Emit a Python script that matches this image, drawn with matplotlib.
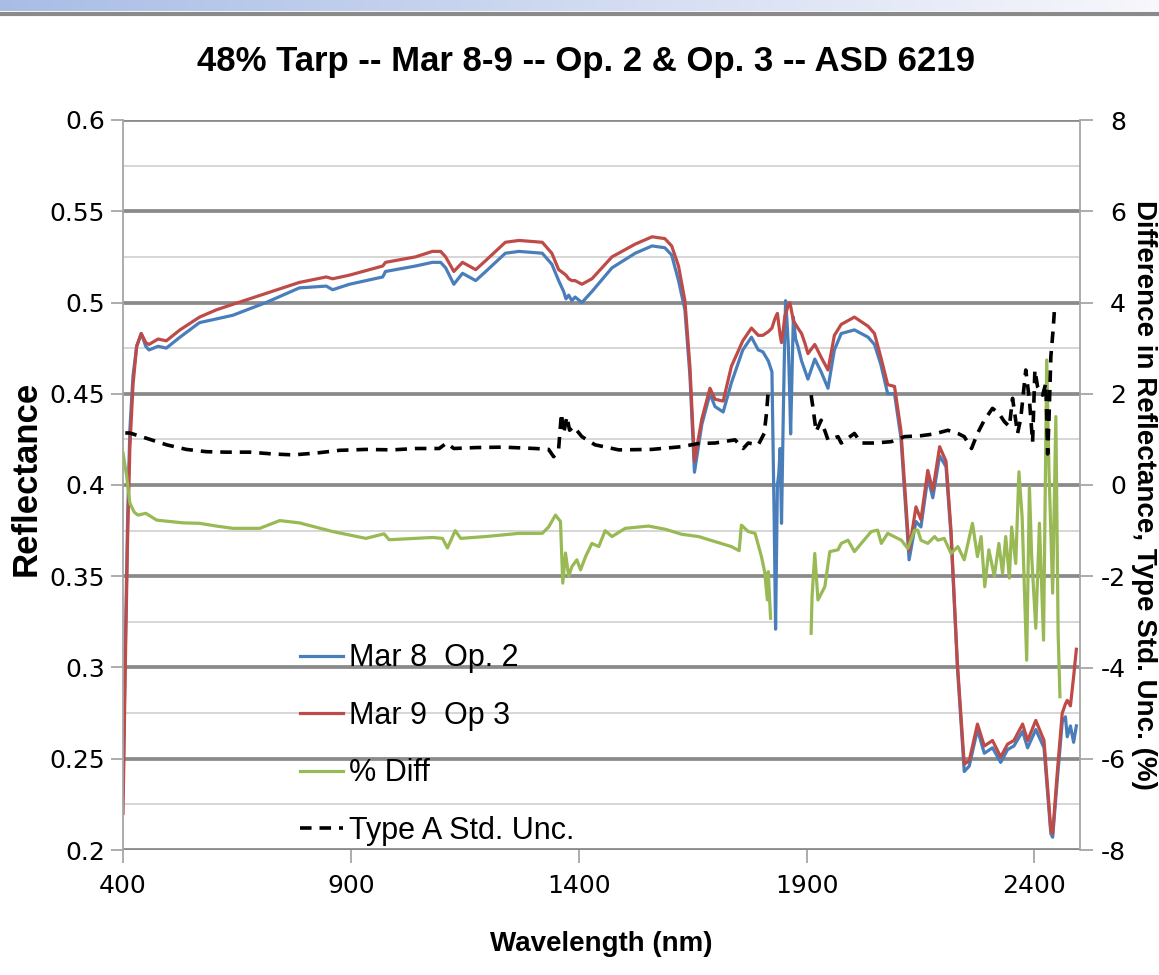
import numpy as np
import matplotlib
matplotlib.use("Agg")
import matplotlib.pyplot as plt
from matplotlib.ticker import MultipleLocator
from matplotlib.lines import Line2D

# reflectance spectra (wavelength in nm)
wl_refl = [400, 405, 410, 415, 422, 430, 440, 450, 457, 477, 495, 525, 568, 605, 641, 714,
           787, 846, 860, 897, 970, 976, 1042, 1079, 1097, 1108, 1126, 1145, 1174, 1196,
           1239, 1269, 1320, 1341, 1356, 1367, 1372, 1378, 1385, 1392, 1407, 1429, 1473,
           1524, 1561, 1589, 1604, 1619, 1633, 1644, 1654, 1670, 1688, 1699, 1717, 1735,
           1760, 1779, 1794, 1804, 1816, 1824, 1829, 1832, 1836, 1839, 1842, 1845, 1849,
           1852, 1854, 1857, 1860, 1863, 1865, 1868, 1871, 1876, 1881, 1889, 1896, 1903,
           1918, 1932, 1947, 1961, 1976, 2005, 2035, 2049, 2063, 2078, 2093, 2107, 2125,
           2140, 2151, 2166, 2177, 2192, 2206, 2217, 2231, 2246, 2257, 2275, 2290, 2308,
           2326, 2341, 2355, 2374, 2385, 2403, 2421, 2436, 2440, 2450, 2461, 2468, 2472,
           2479, 2486, 2492]
mar9_op3 = [0.220, 0.300, 0.370, 0.420, 0.455, 0.476, 0.483, 0.478, 0.477, 0.480, 0.479,
            0.485, 0.492, 0.496, 0.499, 0.505, 0.511, 0.514, 0.513, 0.515, 0.520, 0.522,
            0.525, 0.528, 0.528, 0.525, 0.517, 0.522, 0.518, 0.523, 0.533, 0.534, 0.533,
            0.527, 0.518, 0.516, 0.515, 0.513, 0.512, 0.512, 0.510, 0.513, 0.525, 0.532,
            0.536, 0.535, 0.531, 0.520, 0.501, 0.465, 0.413, 0.436, 0.453, 0.447, 0.446,
            0.465, 0.479, 0.486, 0.482, 0.482, 0.484, 0.486, 0.490, 0.492, 0.494, 0.488,
            0.482, 0.478, 0.485, 0.492, 0.494, 0.496, 0.499, 0.500, 0.498, 0.494, 0.490,
            0.488, 0.486, 0.483, 0.478, 0.472, 0.477, 0.470, 0.463, 0.482, 0.488, 0.492,
            0.487, 0.483, 0.470, 0.455, 0.454, 0.430, 0.364, 0.388, 0.381, 0.408, 0.397,
            0.421, 0.413, 0.375, 0.302, 0.247, 0.249, 0.269, 0.257, 0.260, 0.251, 0.258,
            0.260, 0.269, 0.260, 0.271, 0.260, 0.211, 0.209, 0.242, 0.275, 0.280, 0.282,
            0.279, 0.295, 0.310]
mar8_op2 = [0.230, 0.310, 0.380, 0.430, 0.460, 0.476, 0.483, 0.476, 0.474, 0.476, 0.475,
            0.481, 0.489, 0.491, 0.493, 0.500, 0.508, 0.509, 0.507, 0.510, 0.514, 0.517,
            0.520, 0.522, 0.522, 0.519, 0.510, 0.516, 0.512, 0.517, 0.527, 0.528, 0.527,
            0.521, 0.512, 0.506, 0.502, 0.504, 0.501, 0.503, 0.500, 0.506, 0.519, 0.527,
            0.531, 0.530, 0.526, 0.512, 0.496, 0.460, 0.407, 0.433, 0.450, 0.443, 0.440,
            0.456, 0.474, 0.481, 0.474, 0.473, 0.468, 0.462, 0.380, 0.321, 0.400, 0.406,
            0.420, 0.379, 0.440, 0.480, 0.501, 0.490, 0.476, 0.450, 0.428, 0.460, 0.492,
            0.480, 0.476, 0.468, 0.463, 0.458, 0.469, 0.462, 0.453, 0.474, 0.483, 0.485,
            0.481, 0.477, 0.466, 0.450, 0.450, 0.426, 0.359, 0.380, 0.377, 0.404, 0.393,
            0.416, 0.410, 0.372, 0.300, 0.243, 0.246, 0.266, 0.253, 0.256, 0.248, 0.255,
            0.257, 0.265, 0.256, 0.266, 0.256, 0.209, 0.207, 0.238, 0.270, 0.273, 0.262,
            0.268, 0.259, 0.268]

# percent difference (right axis), nan = no data
wl_diff = [400, 408, 415, 425, 433, 450, 474, 532, 568, 605, 641, 700, 744, 787, 860, 933,
           973, 984, 1079, 1101, 1112, 1129, 1141, 1196, 1269, 1320, 1334, 1349, 1360, 1365,
           1371, 1378, 1385, 1396, 1404, 1415, 1429, 1444, 1458, 1473, 1502, 1553, 1590,
           1626, 1663, 1699, 1735, 1752, 1757, 1772, 1787, 1801, 1808, 1814, 1816, 1821,
           1822, 1908, 1910, 1912, 1918, 1925, 1940, 1951, 1969, 1976, 1991, 2005, 2020,
           2042, 2056, 2064, 2078, 2100, 2108, 2122, 2137, 2144, 2151, 2166, 2181, 2188,
           2202, 2217, 2232, 2246, 2264, 2275, 2283, 2291, 2300, 2312, 2322, 2330, 2337,
           2345, 2350, 2359, 2366, 2373, 2383, 2389, 2394, 2403, 2411, 2420, 2427, 2432,
           2440, 2447, 2452, 2456]
pct_diff = [0.70, 0.20, -0.40, -0.60, -0.66, -0.62, -0.77, -0.83, -0.84, -0.90, -0.95,
            -0.95, -0.78, -0.83, -1.02, -1.17, -1.07, -1.20, -1.15, -1.17, -1.38, -1.00,
            -1.17, -1.13, -1.06, -1.06, -0.92, -0.66, -0.80, -2.15, -1.49, -2.00, -1.79,
            -1.64, -1.86, -1.57, -1.28, -1.35, -1.00, -1.13, -0.95, -0.90, -0.97, -1.08,
            -1.13, -1.24, -1.35, -1.44, -0.88, -1.02, -1.06, -1.57, -1.90, -2.52, -1.90,
            -2.92, np.nan, np.nan, -3.25, -2.45, -1.50, -2.52, -2.23, -1.46, -1.42, -1.28,
            -1.21, -1.46, -1.28, -1.02, -0.99, -1.28, -1.06, -1.17, -1.21, -1.39, -0.99,
            -0.99, -1.21, -1.28, -1.13, -1.21, -1.17, -1.50, -1.35, -1.64, -0.84, -1.57,
            -1.13, -2.23, -1.42, -2.00, -1.28, -1.94, -1.13, -2.04, -0.92, -1.72, 0.29,
            -0.70, -3.84, -0.04, -1.57, -3.14, -0.84, -3.40, 2.74, 0.29, -2.37, 1.50,
            -3.25, -4.64]

# type A standard uncertainty (right axis)
wl_unc = [405, 415, 459, 496, 539, 583, 626, 678, 729, 773, 824, 875, 933, 991, 1043, 1094,
          1110, 1126, 1174, 1232, 1305, 1334, 1345, 1356, 1362, 1367, 1374, 1380, 1389,
          1407, 1436, 1488, 1560, 1626, 1663, 1699, 1743, 1761, 1772, 1794, 1807, 1812,
          1816, 1822, 1823, 1909, 1910, 1914, 1921, 1932, 1947, 1969, 1976, 2005, 2020,
          2049, 2086, 2115, 2151, 2181, 2210, 2232, 2246, 2262, 2275, 2290, 2308, 2322,
          2334, 2345, 2352, 2363, 2370, 2381, 2389, 2396, 2401, 2407, 2418, 2425, 2429,
          2432, 2436, 2441, 2444]
type_a_unc = [1.14, 1.14, 1.00, 0.88, 0.78, 0.73, 0.72, 0.72, 0.68, 0.66, 0.70, 0.76, 0.78,
              0.77, 0.80, 0.80, 0.92, 0.80, 0.82, 0.83, 0.80, 0.78, 0.62, 0.80, 1.57, 1.13,
              1.50, 1.20, 1.28, 1.06, 0.88, 0.77, 0.78, 0.84, 0.91, 0.92, 0.99, 0.80, 0.92,
              0.88, 1.13, 1.57, 2.08, 2.11, np.nan, np.nan, 1.97, 1.70, 1.17, 1.42, 0.99,
              1.06, 0.92, 1.13, 0.92, 0.92, 0.95, 1.06, 1.08, 1.12, 1.20, 1.13, 1.06, 0.80,
              1.13, 1.42, 1.68, 1.57, 1.39, 1.28, 1.90, 1.13, 1.46, 2.52, 1.86, 0.94, 2.52,
              2.15, 1.97, 2.23, 0.68, 1.46, 2.81, 3.40, 3.85]

x_ticks = [400, 900, 1400, 1900, 2400]

W, H = 1159, 975
label_font = ['Liberation Sans', 'DejaVu Sans']
plt.rcParams['font.family'] = ['DejaVu Sans']
plt.rcParams['axes.unicode_minus'] = False

fig = plt.figure(figsize=(W / 100, H / 100), dpi=100)

# slide header strip
hdr = fig.add_axes([0, 1 - 11 / H, 1, 11 / H])
grad = np.linspace(0, 1, 256)
c0 = np.array([0.66, 0.74, 0.90])
c1 = np.array([0.97, 0.97, 0.99])
strip = c0[None, :] * (1 - grad[:, None]) + c1[None, :] * grad[:, None]
hdr.imshow(strip[None, :, :], aspect='auto', extent=[0, 1, 0, 1])
hdr.axis('off')
fig.add_artist(Line2D([0, 1], [1 - 14 / H, 1 - 14 / H], transform=fig.transFigure,
                      color='#8a8a8a', lw=3))

ax = fig.add_axes([123 / W, 125 / H, 957 / W, 730 / H])
ax2 = ax.twinx()

grid_major = '#8a8a8a'
grid_minor = '#cfcfcf'
axis_gray = '#a6a6a6'

ax.set_xlim(400, 2500)
ax.set_ylim(0.2, 0.6)
ax2.set_ylim(-8, 8)
ax.set_xticks(x_ticks)
ax.yaxis.set_major_locator(MultipleLocator(0.05))
ax.yaxis.set_minor_locator(MultipleLocator(0.025))
ax2.yaxis.set_major_locator(MultipleLocator(2))
ax.yaxis.set_major_formatter(plt.FuncFormatter(lambda v, p: f"{v:.2f}".rstrip('0').rstrip('.')))
ax2.yaxis.set_major_formatter(plt.FuncFormatter(lambda v, p: f"{v:.0f}"))

ax.set_axisbelow(True)
ax.grid(axis='y', which='major', color=grid_major, lw=2.7)
ax.grid(axis='y', which='minor', color=grid_minor, lw=1.2)

for a in (ax, ax2):
    for s in a.spines.values():
        s.set_visible(False)
ax.spines['left'].set_visible(True)
ax.spines['left'].set_color(axis_gray)
ax.spines['left'].set_linewidth(1.3)
ax2.spines['right'].set_visible(True)
ax2.spines['right'].set_color(axis_gray)
ax2.spines['right'].set_linewidth(1.3)

ax.tick_params(axis='y', which='major', direction='out', length=9, width=1.3,
               color=axis_gray, labelsize=18, pad=4)
ax.tick_params(axis='y', which='minor', length=0)
ax.tick_params(axis='x', direction='out', length=9, width=1.3, color=axis_gray,
               labelsize=18, pad=8)
ax2.tick_params(axis='y', direction='out', length=9, width=1.3, color=axis_gray,
                labelsize=18, pad=24)
for lbl in ax2.get_yticklabels():
    lbl.set_horizontalalignment('right')

l_blue, = ax.plot(wl_refl, mar8_op2, color='#4a7ebb', lw=2.3, label='Mar 8  Op. 2')
l_red, = ax.plot(wl_refl, mar9_op3, color='#be4b48', lw=2.3, label='Mar 9  Op 3')
l_green, = ax2.plot(wl_diff, pct_diff, color='#98b954', lw=2.3, label='% Diff')
l_black, = ax2.plot(wl_unc, type_a_unc, color='black', lw=2.6, dashes=(3.2, 2.2),
                    label='Type A Std. Unc.')

ax2.legend(handles=[l_blue, l_red, l_green, l_black], loc='upper left',
           bbox_to_anchor=(0.185, 0.283), frameon=False, borderaxespad=0, borderpad=0,
           handlelength=1.4, handletextpad=0.2, labelspacing=0.9,
           prop={'family': label_font, 'size': 22})

fig.text(586 / W, 1 - 62 / H, '48% Tarp -- Mar 8-9 -- Op. 2 & Op. 3 -- ASD 6219',
         ha='center', va='center', fontsize=25, fontweight='bold', family=label_font)
fig.text(26 / W, 1 - 478 / H, 'Reflectance', rotation=90, ha='center', va='center',
         fontsize=25, fontweight='bold', family=label_font)
fig.text(601 / W, 1 - 944 / H, 'Wavelength (nm)', ha='center', va='center',
         fontsize=20, fontweight='bold', family=label_font)
fig.text(1144 / W, 1 - 495 / H, 'Difference in Reflectance, Type Std. Unc. (%)',
         rotation=270, ha='center', va='center', fontsize=20, fontweight='bold',
         family=label_font)

fig.savefig('out.png', dpi=100)
